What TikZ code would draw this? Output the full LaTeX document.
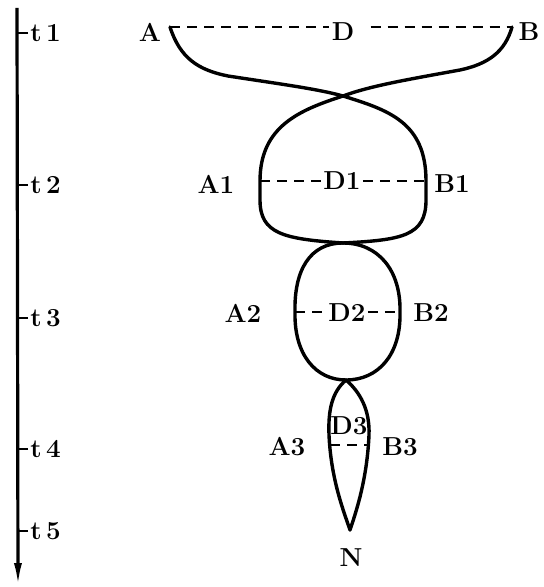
\documentclass[tikz,border=0pt]{standalone}
\usepackage{amsmath,amssymb}
\usepackage{tikz}
\usetikzlibrary{arrows.meta, positioning}

\begin{document}
\begin{tikzpicture}[
  x=0.5pt, y=-0.5pt,
  >={Latex[length=12pt,width=4pt]},
  every node/.style={inner sep=1pt, font=\fontsize{13}{15}\selectfont\bfseries},
  strand/.style={line width=1.7pt, line cap=round},
  link/.style={line width=1.2pt, dash pattern=on 5pt off 3.5pt},
  tlabel/.style={anchor=west}
]
  \useasboundingbox (0,0) rectangle (543,587);

  % time axis
  \coordinate (axtop) at (17,8);
  \coordinate (axbot) at (18,587);
  \draw[line width=1.6pt, ->] (axtop) -- (axbot);
  \foreach \i/\y in {1/33, 2/185, 3/318, 4/449, 5/531} {
    \node[tlabel] (t\i) at (28,\y) {t\,\i};
    \draw[line width=1.3pt] (t\i.west) -- (t\i.west -| axtop);
  }

  % labels
  \node (A) at (150,32) {A};
  \node (D) at (343,32) {D};
  \node (B) at (529,32) {B};
  \node (A1) at (216,184) {A1};
  \node (D1) at (342,181) {D1};
  \node (B1) at (452,184) {B1};
  \node (A2) at (243,313) {A2};
  \node (D2) at (347,313) {D2};
  \node (B2) at (431,313) {B2};
  \node (A3) at (287,447) {A3};
  \node[inner sep=0pt] (D3) at (349,426) {D3};
  \node (B3) at (400,447) {B3};
  \node (N) at (351,558) {N};

  % points of the strands
  \coordinate (a0) at (170,27);
  \coordinate (b0) at (512,27);
  \coordinate (x1) at (343,96);
  \coordinate (w1) at (343,243);
  \coordinate (w2) at (346,380);
  \coordinate (n0) at (350,530);
  \coordinate (a1) at (260,181);
  \coordinate (b1) at (426,181);
  \coordinate (a2) at (295,312);
  \coordinate (b2) at (400,312);
  \coordinate (a3) at (330,445);
  \coordinate (b3) at (368,445);

  \draw[strand] (a0) .. controls (180,58) and (198,70) .. (228,76)
    .. controls (280,84) and (318,89) .. (x1)
    .. controls (388,110) and (426,122) .. (b1)
    -- (426,200) .. controls (426,236) and (402,240) .. (w1);
  \draw[strand] (b0) .. controls (505,52) and (488,64) .. (460,70)
    .. controls (405,80) and (370,86) .. (x1)
    .. controls (300,110) and (260,126) .. (a1)
    -- (260,200) .. controls (260,234) and (284,239) .. (w1);

  \draw[strand] (w1) .. controls (310,243) and (294,270) .. (a2)
    .. controls (294,355) and (316,380) .. (w2);
  \draw[strand] (w1) .. controls (378,243) and (401,270) .. (b2)
    .. controls (401,355) and (378,380) .. (w2);

  \draw[strand] (w2) .. controls (332,392) and (328,410) .. (329,435)
    .. controls (331,480) and (344,512) .. (n0);
  \draw[strand] (w2) .. controls (360,392) and (370,410) .. (369,435)
    .. controls (367,480) and (356,512) .. (n0);

  \draw[link] (a0) -- (D.west |- a0);
  \draw[link] (D.east |- b0) ++(14,0) -- (b0);
  \draw[link] (a1) -- (D1.west |- a1);
  \draw[link] (D1.east |- b1) -- (b1);
  \draw[link] (a2) -- (D2.west |- a2);
  \draw[link] (D2.east |- b2) -- (b2);
  \draw[link] (a3) -- (b3);
\end{tikzpicture}
\end{document}
